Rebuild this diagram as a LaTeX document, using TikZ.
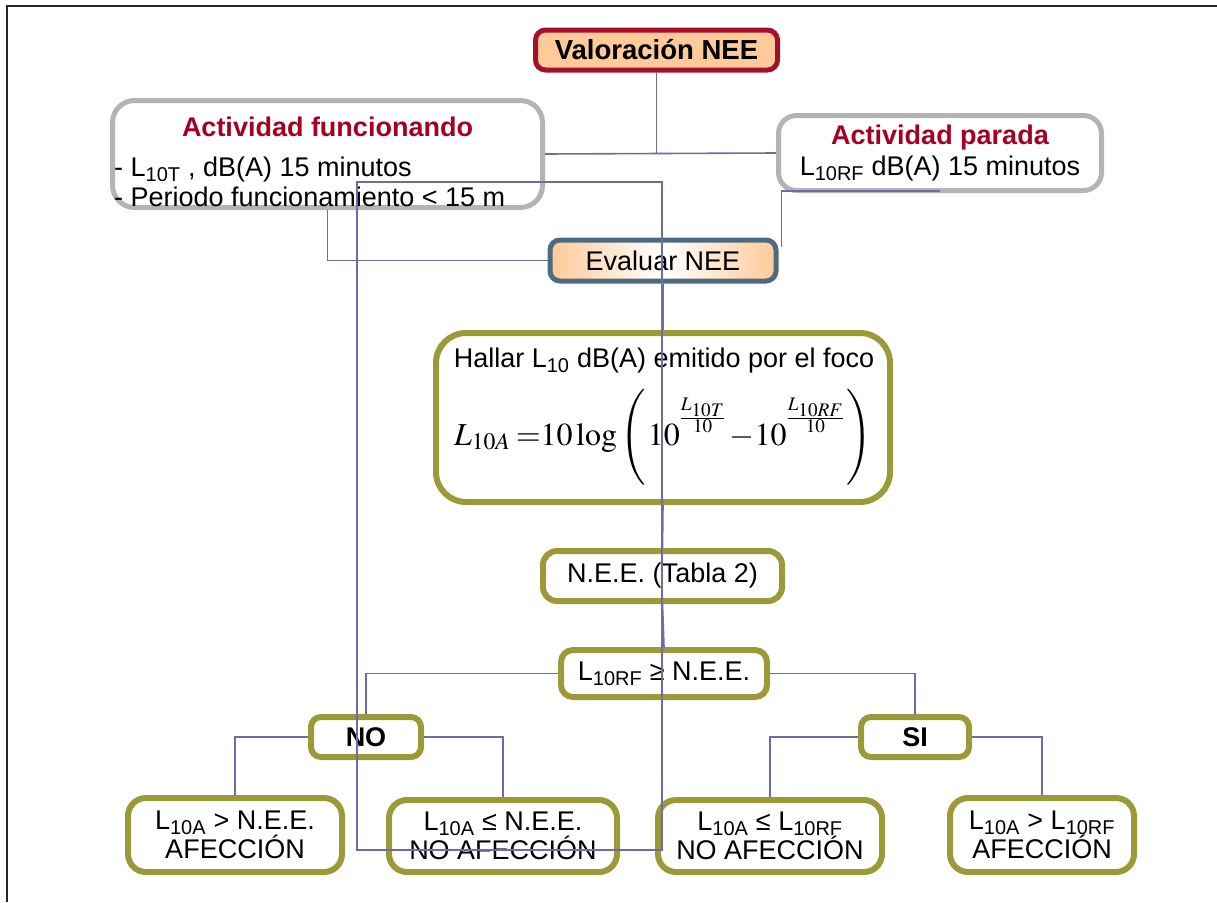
\documentclass[tikz,border=0pt]{standalone}
\usepackage{mathptmx}
\usepackage[no-math]{fontspec}
\setmainfont{Liberation Sans}
\definecolor{vred}{HTML}{A3102B}
\definecolor{tred}{HTML}{A50021}
\definecolor{peach}{HTML}{FDCA98}
\definecolor{boxgrey}{HTML}{B4B4B4}
\definecolor{slate}{HTML}{4E6A7E}
\definecolor{olive}{HTML}{9C9A38}
\definecolor{wirec}{HTML}{6C6CA8}
\newcommand{\myexp}[1]{\raisebox{9pt}{$\scriptstyle\frac{#1}{10}$}}
\tikzset{
  basebox/.style={draw, inner sep=0pt, align=center, font=\fontsize{27}{31}\selectfont},
  greybox/.style={basebox, draw=boxgrey, line width=5pt, fill=white},
  olivebox/.style={basebox, draw=olive, line width=6pt, fill=white},
  txt/.style={inner sep=0pt, font=\fontsize{27}{31}\selectfont},
  wire/.style={draw=wirec, line width=1.6pt},
  frame/.style={draw=black!85, line width=2pt}
}
\begin{document}
\begin{tikzpicture}[x=1pt,y=-1pt]
\useasboundingbox (0,0) rectangle (1217,902);
% frame
\coordinate (frA) at (6,6);
\coordinate (frB) at (1217,6);
\coordinate (frC) at (7,902);
\coordinate (frD) at (7,6);
\draw[frame] (frA) -- (frB);
\draw[frame] (frD) -- (frC);

% boxes
\node[basebox, draw=vred, line width=5pt, fill=peach, rounded corners=10pt,
      minimum width=242, minimum height=40, font=\fontsize{27.5}{31}\selectfont\bfseries]
      (val) at (656.5,50) {Valoración NEE};

\node[greybox, rounded corners=22pt, minimum width=430, minimum height=107] (func) at (327.5,154) {};
\node[txt, text=tred, font=\fontsize{27}{31}\selectfont\bfseries] (functitle) at (327.5,127) {Actividad funcionando};
\node[txt, anchor=west, align=left] (funcbody) at (114,182) {- L\textsubscript{10T} , dB(A) 15 minutos\\[-1pt]- Periodo funcionamiento < 15 m};

\node[greybox, rounded corners=18pt, minimum width=323, minimum height=75] (parada) at (940,153)
  {{\color{tred}\bfseries Actividad parada}\\L\textsubscript{10RF} dB(A) 15 minutos};

\node[basebox, draw=slate, line width=5pt, rounded corners=10pt, left color=peach, right color=peach, middle color=white,
      minimum width=226, minimum height=41] (eval) at (663,260.5) {Evaluar NEE};

\node[olivebox, rounded corners=30pt, minimum width=454, minimum height=169] (form) at (663,417.5) {};
\node[txt] (formtitle) at (664,361) {Hallar L\textsubscript{10} dB(A) emitido por el foco};
\node[inner sep=0pt, anchor=base, font=\fontsize{32}{36}\selectfont] (formeq) at (663,445)
  {$L_{10A}\mkern3mu{=}10\log\left(\vphantom{\rule[-35pt]{0pt}{86pt}}\mkern1mu 10^{\myexp{L_{10T}}}\mkern2mu{-}10^{\myexp{L_{10RF}}}\mkern1mu\right)$};

\node[olivebox, rounded corners=14pt, minimum width=239, minimum height=50] (nee) at (662.5,576) {N.E.E. (Tabla 2)};
\node[olivebox, rounded corners=12pt, minimum width=206, minimum height=47] (cond) at (664,673.5) {L\textsubscript{10RF} ≥ N.E.E.};
\node[olivebox, rounded corners=10pt, minimum width=110, minimum height=40, font=\fontsize{27}{31}\selectfont\bfseries] (no) at (366,737) {NO};
\node[olivebox, rounded corners=10pt, minimum width=108, minimum height=40, font=\fontsize{27}{31}\selectfont\bfseries] (si) at (915,737) {SI};

\node[olivebox, rounded corners=18pt, minimum width=214, minimum height=74] (bA) at (235,835) {L\textsubscript{10A} > N.E.E.\\[-2pt]AFECCIÓN};
\node[olivebox, rounded corners=18pt, minimum width=228, minimum height=72] (bB) at (503,836) {L\textsubscript{10A} ≤ N.E.E.\\[-2pt]NO AFECCIÓN};
\node[olivebox, rounded corners=18pt, minimum width=224, minimum height=72] (bC) at (770,836) {L\textsubscript{10A} ≤ L\textsubscript{10RF}\\[-2pt]NO AFECCIÓN};
\node[olivebox, rounded corners=18pt, minimum width=184, minimum height=74] (bD) at (1042,835) {L\textsubscript{10A} > L\textsubscript{10RF}\\[-2pt]AFECCIÓN};

% connectors
\draw[wire] (val.south) -- (val.south |- func.east);
\draw[wire] (func.east) -- (parada.west);
\draw[wire] (func.south) |- (eval.west);
\draw[wire] ([xshift=0pt,yshift=2pt]parada.south) -| ([xshift=3pt,yshift=14pt]eval.east);
\draw[wire] (eval.south) -- (form.north);
\draw[wire] (form.south) -- (nee.north);
\draw[wire] (nee.south) -- (cond.north);
\draw[wire] (cond.west) -| (no.north);
\draw[wire] (cond.east) -| (si.north);
\draw[wire] (no.west) -| (bA.north);
\draw[wire] (no.east) -| (bB.north);
\draw[wire] (si.west) -| (bC.north);
\draw[wire] (si.east) -| (bD.north);
% loop
\coordinate (lpA) at (357,182);
\coordinate (lpB) at (662,182);
\coordinate (lpC) at (662,850);
\coordinate (lpD) at (357,850);
\draw[wire] (lpA) -- (lpB) -- (lpC) -- (lpD) -- cycle;
\end{tikzpicture}
\end{document}
